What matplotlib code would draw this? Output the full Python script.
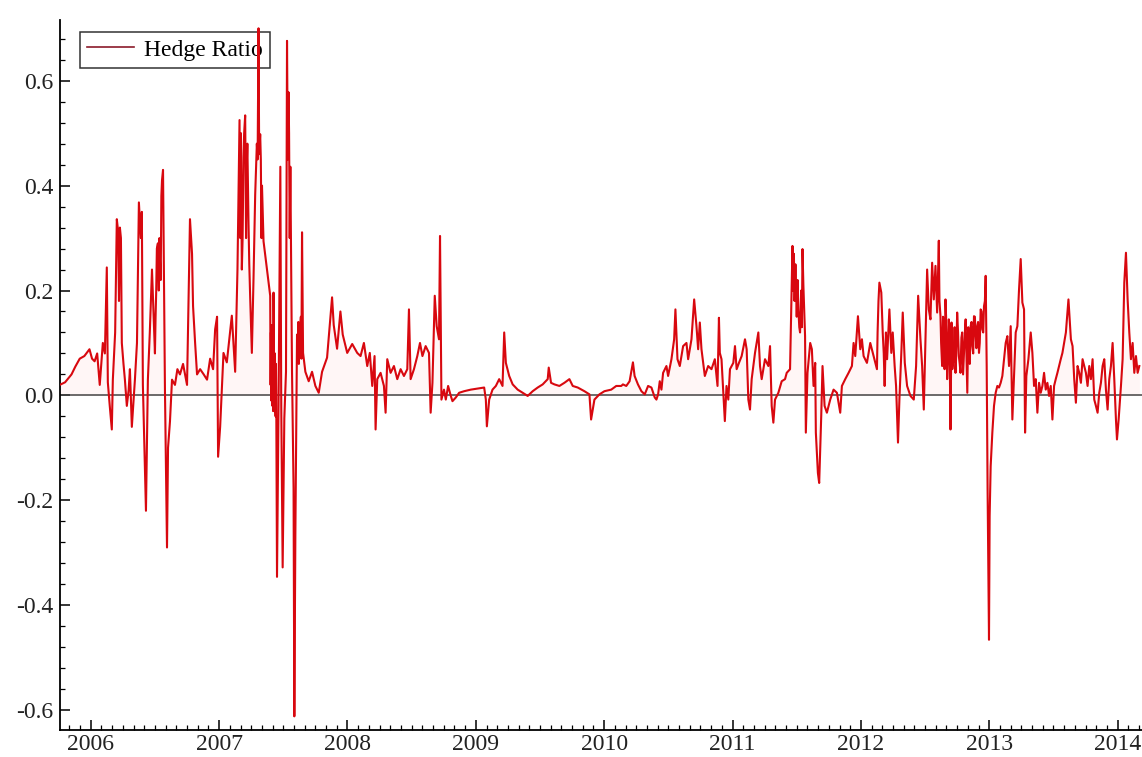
import matplotlib
matplotlib.use('Agg')
import matplotlib.pyplot as plt
from matplotlib.ticker import MultipleLocator
import numpy as np

plt.rcParams['font.family'] = ['Liberation Serif', 'DejaVu Serif']

# decimal year, hedge ratio
years = [
    2005.758, 2005.80, 2005.85, 2005.88, 2005.914, 2005.95, 2005.99, 2006.01, 2006.03, 2006.05,
    2006.07, 2006.094, 2006.11, 2006.125, 2006.133, 2006.148, 2006.164, 2006.172, 2006.19, 2006.203,
    2006.215, 2006.227, 2006.242, 2006.255, 2006.266, 2006.281, 2006.295, 2006.305, 2006.32, 2006.344,
    2006.36, 2006.375, 2006.39, 2006.398, 2006.406, 2006.43, 2006.445, 2006.46, 2006.477, 2006.49,
    2006.5, 2006.51, 2006.523, 2006.54, 2006.555, 2006.563, 2006.578, 2006.594, 2006.602, 2006.617,
    2006.633, 2006.656, 2006.675, 2006.695, 2006.719, 2006.75, 2006.773, 2006.789, 2006.797, 2006.813,
    2006.828, 2006.852, 2006.88, 2006.906, 2006.93, 2006.953, 2006.969, 2006.984, 2006.992, 2007.008,
    # 2007 - 2008
    2007.034, 2007.06, 2007.099, 2007.125, 2007.143, 2007.159, 2007.177, 2007.19, 2007.203, 2007.216,
    2007.229, 2007.242, 2007.255, 2007.268, 2007.281, 2007.294, 2007.307, 2007.32, 2007.334, 2007.346,
    2007.373, 2007.398, 2007.412, 2007.424, 2007.432, 2007.438, 2007.445, 2007.451, 2007.463, 2007.477,
    2007.484, 2007.495, 2007.508, 2007.521, 2007.529, 2007.541, 2007.555, 2007.568, 2007.58, 2007.586,
    2007.594, 2007.607, 2007.627, 2007.646, 2007.654, 2007.672, 2007.698, 2007.724, 2007.75, 2007.776,
    2007.802, 2007.841, 2007.88, 2007.893, 2007.919, 2007.945, 2007.963, 2007.998, 2008.037, 2008.076,
    # 2008 - 2010
    2008.102, 2008.128, 2008.154, 2008.174, 2008.193, 2008.211, 2008.219, 2008.232, 2008.258, 2008.284,
    2008.297, 2008.31, 2008.336, 2008.362, 2008.388, 2008.414, 2008.44, 2008.466, 2008.479, 2008.492,
    2008.518, 2008.544, 2008.565, 2008.584, 2008.609, 2008.635, 2008.648, 2008.662, 2008.68, 2008.695,
    2008.713, 2008.721, 2008.732, 2008.752, 2008.766, 2008.784, 2008.805, 2008.818, 2008.844, 2008.87,
    2008.909, 2008.961, 2009.013, 2009.065, 2009.078, 2009.086, 2009.104, 2009.13, 2009.156, 2009.182,
    2009.208, 2009.221, 2009.234, 2009.26, 2009.287, 2009.326, 2009.365, 2009.404, 2009.443, 2009.482,
    2009.521, 2009.56, 2009.568, 2009.586, 2009.612, 2009.651, 2009.69, 2009.729, 2009.755, 2009.794,
    2009.846, 2009.885, 2009.898, 2009.924, 2009.963, 2010.002, 2010.055, 2010.094, 2010.133,
    # 2010 - 2012
    2010.146, 2010.172, 2010.198, 2010.224, 2010.237, 2010.263, 2010.29, 2010.316, 2010.342, 2010.368,
    2010.394, 2010.407, 2010.42, 2010.433, 2010.446, 2010.459, 2010.485, 2010.498, 2010.524, 2010.545,
    2010.555, 2010.571, 2010.589, 2010.615, 2010.641, 2010.654, 2010.68, 2010.701, 2010.719, 2010.732,
    2010.745, 2010.758, 2010.784, 2010.81, 2010.836, 2010.862, 2010.883, 2010.894, 2010.901, 2010.914,
    2010.927, 2010.94, 2010.953, 2010.967, 2010.98, 2011.006, 2011.019, 2011.032, 2011.05, 2011.071,
    2011.097, 2011.11, 2011.123, 2011.136, 2011.149, 2011.175, 2011.201, 2011.214, 2011.227, 2011.253,
    2011.279, 2011.292, 2011.305, 2011.318, 2011.331, 2011.357, 2011.383, 2011.409, 2011.422, 2011.448,
    2011.467, 2011.474, 2011.487, 2011.513, 2011.526, 2011.545, 2011.552, 2011.565, 2011.571, 2011.584,
    2011.605, 2011.618, 2011.631, 2011.644, 2011.649, 2011.665, 2011.675, 2011.691, 2011.701, 2011.717,
    2011.735, 2011.761, 2011.787, 2011.813, 2011.839, 2011.852, 2011.878, 2011.904, 2011.93, 2011.943,
    2011.956, 2011.977, 2011.995, 2012.008,
    # 2012 - 2014
    2012.021, 2012.047, 2012.073, 2012.099, 2012.125, 2012.144, 2012.159, 2012.17, 2012.185, 2012.204,
    2012.222, 2012.237, 2012.248, 2012.263, 2012.274, 2012.289, 2012.3, 2012.316, 2012.326, 2012.342,
    2012.36, 2012.386, 2012.412, 2012.43, 2012.446, 2012.464, 2012.477, 2012.49, 2012.503, 2012.516,
    2012.529, 2012.542, 2012.555, 2012.568, 2012.581, 2012.594, 2012.607, 2012.62, 2012.633, 2012.646,
    2012.659, 2012.672, 2012.685, 2012.698, 2012.706, 2012.724, 2012.737, 2012.75, 2012.763, 2012.776,
    2012.789, 2012.803, 2012.816, 2012.829, 2012.842, 2012.855, 2012.868, 2012.881, 2012.894, 2012.907,
    2012.92, 2012.933, 2012.946, 2012.959, 2012.972, 2012.98, 2012.987, 2012.993, 2012.998, 2013.003,
    2013.011, 2013.024, 2013.037, 2013.05, 2013.063, 2013.076, 2013.089, 2013.102, 2013.128, 2013.141,
    2013.154, 2013.167, 2013.18, 2013.193, 2013.206, 2013.219, 2013.232, 2013.245, 2013.258, 2013.271,
    2013.279, 2013.289, 2013.305, 2013.323, 2013.336, 2013.349, 2013.362, 2013.375, 2013.388, 2013.401,
    2013.414, 2013.427, 2013.44, 2013.453, 2013.466, 2013.479, 2013.492, 2013.505, 2013.518, 2013.531,
    2013.544, 2013.557, 2013.57, 2013.597, 2013.617, 2013.636, 2013.649, 2013.662, 2013.675, 2013.688,
    2013.701, 2013.714, 2013.727, 2013.74, 2013.753, 2013.766, 2013.779, 2013.792, 2013.805, 2013.818,
    2013.831, 2013.844, 2013.857, 2013.87, 2013.883, 2013.896, 2013.909, 2013.922, 2013.935, 2013.948,
    2013.961, 2013.974, 2013.987, 2013.995, 2014.008, 2014.026, 2014.039, 2014.052, 2014.065, 2014.078,
    2014.091, 2014.104, 2014.117, 2014.13, 2014.143, 2014.156, 2014.169,
]

hedge = [
    0.02, 0.025, 0.04, 0.055, 0.07, 0.075, 0.088, 0.07, 0.065, 0.08,
    0.02, 0.10, 0.08, 0.244, 0.025, -0.02, -0.065, 0.03, 0.12, 0.336,
    0.28, 0.32, 0.10, 0.06, 0.03, -0.02, 0.01, 0.05, -0.06, 0.03,
    0.10, 0.368, 0.30, 0.35, 0.02, -0.22, 0.03, 0.12, 0.24, 0.15,
    0.08, 0.20, 0.29, 0.25, 0.41, 0.43, 0.01, -0.29, -0.10, -0.05,
    0.03, 0.02, 0.05, 0.04, 0.06, 0.02, 0.336, 0.27, 0.17, 0.10,
    0.04, 0.05, 0.04, 0.03, 0.07, 0.05, 0.126, 0.15, -0.117, -0.06,
    # 2007 - 2008
    0.081, 0.063, 0.152, 0.045, 0.24, 0.525, 0.24, 0.454, 0.534, 0.445,
    0.329, 0.187, 0.081, 0.223, 0.383, 0.48, 0.70, 0.498, 0.40, 0.294,
    0.24, 0.19, 0.134, 0.196, 0.06, -0.02, 0.0, -0.346, -0.02, 0.436,
    -0.02, -0.328, -0.044, 0.045, 0.676, 0.578, 0.436, 0.045, -0.177, -0.612,
    -0.266, 0.116, 0.116, 0.311, 0.081, 0.045, 0.027, 0.045, 0.018, 0.005,
    0.045, 0.072, 0.187, 0.134, 0.089, 0.16, 0.116, 0.081, 0.098, 0.081,
    # 2008 - 2010
    0.075, 0.10, 0.056, 0.081, 0.018, 0.075, -0.065, 0.031, 0.043, 0.018,
    -0.033, 0.069, 0.043, 0.056, 0.031, 0.05, 0.037, 0.05, 0.164, 0.031,
    0.05, 0.075, 0.10, 0.075, 0.094, 0.081, -0.033, 0.024, 0.19, 0.132,
    0.107, 0.304, -0.008, 0.011, -0.008, 0.018, -0.001, -0.011, -0.004, 0.005,
    0.008, 0.011, 0.013, 0.015, -0.008, -0.059, -0.008, 0.011, 0.018, 0.031,
    0.018, 0.12, 0.062, 0.037, 0.021, 0.011, 0.005, -0.001, 0.008, 0.015,
    0.021, 0.031, 0.053, 0.024, 0.021, 0.018, 0.024, 0.031, 0.018, 0.015,
    0.008, 0.002, -0.046, -0.008, 0.002, 0.008, 0.011, 0.018, 0.018,
    # 2010 - 2012
    0.021, 0.018, 0.027, 0.063, 0.037, 0.021, 0.008, 0.002, 0.018, 0.015,
    -0.004, -0.008, 0.002, 0.027, 0.011, 0.043, 0.056, 0.037, 0.069, 0.107,
    0.164, 0.069, 0.056, 0.094, 0.10, 0.069, 0.107, 0.183, 0.132, 0.088,
    0.139, 0.088, 0.037, 0.056, 0.05, 0.069, 0.018, 0.148, 0.081, 0.069,
    0.011, -0.049, 0.018, -0.008, 0.05, 0.062, 0.094, 0.05, 0.062, 0.075,
    0.107, 0.088, -0.008, -0.027, 0.031, 0.081, 0.12, 0.056, 0.031, 0.069,
    0.056, 0.094, -0.02, -0.052, -0.008, 0.005, 0.027, 0.031, 0.043, 0.05,
    0.285, 0.234, 0.221, 0.164, 0.12, 0.279, 0.209, 0.113, -0.071, 0.043,
    0.10, 0.088, 0.018, 0.062, -0.071, -0.148, -0.167, -0.039, 0.056, -0.02,
    -0.033, -0.008, 0.011, 0.005, -0.033, 0.018, 0.031, 0.043, 0.056, 0.10,
    0.075, 0.151, 0.088, 0.107,
    # 2012 - 2014
    0.075, 0.062, 0.10, 0.075, 0.05, 0.215, 0.196, 0.12, 0.018, 0.069,
    0.164, 0.081, 0.12, 0.056, 0.018, -0.09, -0.008, 0.088, 0.158, 0.062,
    0.018, -0.001, -0.008, 0.056, 0.19, 0.107, 0.056, -0.027, 0.107, 0.24,
    0.164, 0.145, 0.253, 0.183, 0.247, 0.158, 0.295, 0.151, 0.056, 0.107,
    0.183, 0.031, 0.145, -0.065, 0.139, 0.075, 0.043, 0.158, 0.075, 0.043,
    0.12, 0.081, 0.145, 0.005, 0.088, 0.132, 0.094, 0.151, 0.113, 0.132,
    0.081, 0.164, 0.126, 0.17, 0.228, 0.056, -0.179, -0.326, -0.466, -0.23,
    -0.135, -0.071, -0.02, 0.005, 0.018, 0.015, 0.024, 0.037, 0.10, 0.113,
    0.056, 0.132, -0.046, 0.037, 0.12, 0.132, 0.202, 0.26, 0.177, 0.164,
    -0.071, 0.037, 0.069, 0.12, 0.081, 0.018, 0.031, -0.033, 0.024, 0.005,
    0.018, 0.043, 0.011, 0.024, -0.001, 0.018, -0.046, 0.018, 0.031, 0.043,
    0.056, 0.069, 0.081, 0.12, 0.183, 0.107, 0.094, 0.031, -0.014, 0.056,
    0.043, 0.024, 0.069, 0.056, 0.043, 0.018, 0.056, 0.031, 0.069, -0.008,
    -0.02, -0.033, 0.005, 0.024, 0.056, 0.069, 0.011, -0.027, 0.031, 0.056,
    0.10, 0.031, -0.046, -0.084, -0.046, 0.018, 0.069, 0.215, 0.272, 0.183,
    0.12, 0.069, 0.10, 0.043, 0.075, 0.043, 0.056,
]

# extra readings inside the dense (fast-oscillating) stretches
years_dense = [
    2006.21, 2006.22, 2006.235,
    2006.505, 2006.515, 2006.53, 2006.535, 2006.545, 2006.55,
    2007.165, 2007.17, 2007.183, 2007.195, 2007.21, 2007.22, 2007.235,
    2007.30, 2007.312, 2007.325, 2007.33,
    2007.401, 2007.404, 2007.407, 2007.41, 2007.415, 2007.418, 2007.421, 2007.427, 2007.43, 2007.435,
    2007.44, 2007.443,
    2007.535, 2007.545, 2007.55,
    2007.612, 2007.617, 2007.621, 2007.637, 2007.641,
    2011.47, 2011.478, 2011.483, 2011.49, 2011.50, 2011.507, 2011.52, 2011.535, 2011.54,
    2012.13, 2012.137, 2012.178, 2012.195,
    2012.612, 2012.625, 2012.64, 2012.652, 2012.665, 2012.678, 2012.69, 2012.712, 2012.73, 2012.743,
    2012.757, 2012.77, 2012.783, 2012.796, 2012.81, 2012.823, 2012.836, 2012.848, 2012.862, 2012.875,
    2012.888, 2012.90, 2012.913, 2012.926, 2012.94, 2012.953, 2012.966,
]
hedge_dense = [
    0.32, 0.18, 0.30,
    0.15, 0.28, 0.20, 0.30, 0.22, 0.38,
    0.30, 0.50, 0.30, 0.50, 0.30, 0.48, 0.25,
    0.45, 0.46, 0.45, 0.30,
    0.02, 0.12, -0.01, 0.11, -0.02, 0.10, -0.03, 0.09, -0.03, 0.08,
    -0.04, 0.06,
    0.45, 0.50, 0.30,
    0.07, 0.14, 0.06, 0.15, 0.07,
    0.20, 0.27, 0.18, 0.25, 0.15, 0.22, 0.13, 0.20, 0.13,
    0.12, 0.18, 0.08, 0.12,
    0.18, 0.10, 0.15, 0.05, 0.14, 0.07, 0.12, 0.05, 0.13, 0.08,
    0.12, 0.06, 0.11, 0.04, 0.12, 0.07, 0.13, 0.06, 0.14, 0.08,
    0.15, 0.09, 0.14, 0.10, 0.16, 0.12, 0.18,
]

year_ticks = list(range(2006, 2015))

t = np.array(years + years_dense)
h = np.array(hedge + hedge_dense)
order = np.argsort(t, kind='stable')
t, h = t[order], h[order]

fig = plt.figure(figsize=(11.42, 7.57), dpi=100)
ax = fig.add_axes([0.0525, 0.0357, 0.9475, 0.938])

ax.fill_between(t, 0, h, color='#ff3030', alpha=0.045, lw=0, zorder=1)
ax.axhline(0, color='#444444', lw=1.1, zorder=2)
ax.plot(t, h, color='#d8080f', lw=1.5, label='Hedge Ratio', zorder=3)

ax.set_xlim(2005.76, 2014.19)
ax.set_ylim(-0.638, 0.716)

for s in ['top', 'right']:
    ax.spines[s].set_visible(False)
for s in ['left', 'bottom']:
    ax.spines[s].set_linewidth(1.3)
    ax.spines[s].set_color('black')

ax.set_xticks(year_ticks)
ax.set_xticklabels([str(y) for y in year_ticks])
ax.xaxis.set_minor_locator(MultipleLocator(1 / 12))
ax.set_yticks([-0.6, -0.4, -0.2, 0.0, 0.2, 0.4, 0.6])
ax.set_yticklabels(['-0.6', '-0.4', '-0.2', '0.0', '0.2', '0.4', '0.6'])
ax.yaxis.set_minor_locator(MultipleLocator(0.04))

ax.tick_params(axis='both', which='major', direction='in', length=7, width=1.1,
               labelsize=17, colors='black', labelcolor='#222222')
ax.tick_params(axis='both', which='minor', direction='in', length=3.5, width=0.9)
ax.tick_params(axis='x', pad=3)
ax.tick_params(axis='y', pad=5)

leg = ax.legend(loc='upper left', bbox_to_anchor=(0.0185, 0.983), fontsize=17,
                frameon=True, fancybox=False, edgecolor='black',
                handlelength=2.0, handletextpad=0.4, borderpad=0.3, borderaxespad=0)
leg.get_frame().set_facecolor('none')
leg.get_frame().set_linewidth(1.1)
leg.get_lines()[0].set_color('#8b1a2a')
leg.get_lines()[0].set_linewidth(1.2)
leg.set_zorder(0)

fig.savefig('out.png', dpi=100)
